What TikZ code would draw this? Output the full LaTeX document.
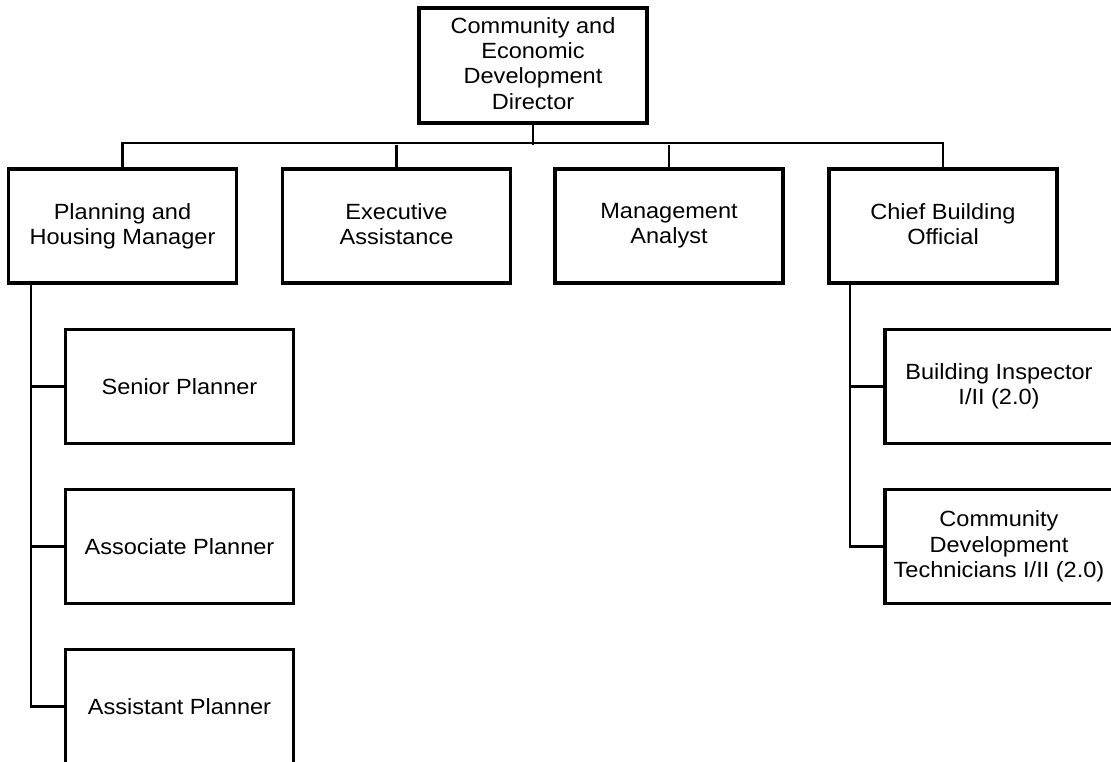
\documentclass[tikz,border=0pt]{standalone}
\usepackage{fontspec}
\setmainfont{Liberation Sans}[FakeStretch=1.07]
% fixed-height strut so that every label sits on the same baseline grid
\newcommand\labelstrut{\rule[-4.6pt]{0pt}{25.3pt}}
\begin{document}
\begin{tikzpicture}[x=1pt,y=-1pt,
  post/.style={draw=black,line width=3.4pt,fill=white,rectangle,
    minimum width=228pt,minimum height=114pt,inner sep=0pt,
    align=center,font=\fontsize{22}{25.3}\selectfont,
    execute at begin node=\labelstrut,execute at end node=\labelstrut},
  link/.style={draw=black,line width=2.2pt}]
\useasboundingbox (0,0) rectangle (1111,761);
\clip (0,0) rectangle (1111,761);
\fill[white] (0,0) rectangle (1111,761);

% director
\node[post,minimum height=115pt] (dir) at (533,65.5) {Community and\\Economic\\Development\\Director};

% second level
\node[post] (plan)  at (122.5,226) {Planning and\\Housing Manager};
\node[post] (exec)  at (396.5,226) {Executive\\Assistance};
\node[post] (mgmt)  at (669,226)   {Management\\Analyst};
\node[post] (chief) at (943,226)   {Chief Building\\Official};

% planning staff
\node[post] (senior) at (179.5,386.5) {Senior Planner};
\node[post] (assoc)  at (179.5,546.5) {Associate Planner};
\node[post] (assist) at (179.5,706.5) {Assistant Planner};

% building staff
\node[post] (insp) at (999,386.5) {Building Inspector\\I/II (2.0)};
\node[post] (tech) at (999,546.5) {Community\\Development\\Technicians I/II (2.0)};

% director to second level
\coordinate (bus) at (533,145);
\draw[link] (dir.south) -- (bus);
\draw[link] (plan.north) -- ++(0,-24) -| (chief.north);
\draw[link] (exec.north) -- (exec.north |- bus);
\draw[link] (mgmt.north) -- (mgmt.north |- bus);

% planning branch
\coordinate (pl) at ([xshift=24]plan.south west);
\draw[link] (pl) |- (assist.west);
\draw[link] (pl) |- (senior.west);
\draw[link] (pl) |- (assoc.west);

% building branch
\coordinate (cb) at ([xshift=23]chief.south west);
\draw[link] (cb) |- (tech.west);
\draw[link] (cb) |- (insp.west);
\end{tikzpicture}
\end{document}
